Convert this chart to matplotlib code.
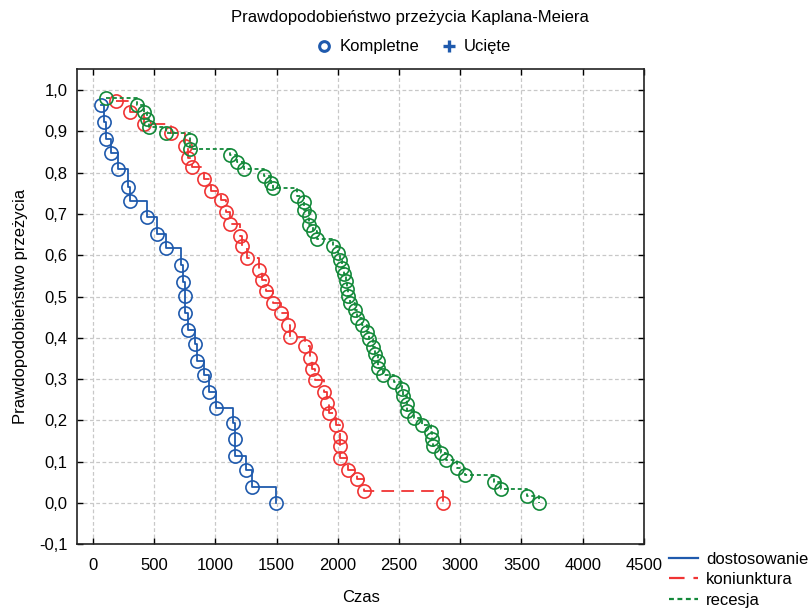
import matplotlib
matplotlib.use('Agg')
import matplotlib.pyplot as plt
from matplotlib.lines import Line2D
from matplotlib.ticker import FuncFormatter, MultipleLocator

plt.rcParams['font.family'] = ['Liberation Sans', 'DejaVu Sans']
plt.rcParams['font.size'] = 12

# czasy i prawdopodobienstwo przezycia
t_dost = [65, 87, 106, 147, 204, 283, 302, 439, 520, 596, 716, 733, 754, 754, 773,
          833, 849, 909, 950, 1005, 1141, 1160, 1160, 1247, 1299, 1495]
s_dost = [0.964, 0.923, 0.882, 0.848, 0.809, 0.766, 0.732, 0.693, 0.652, 0.618,
          0.577, 0.536, 0.501, 0.461, 0.420, 0.386, 0.345, 0.310, 0.270, 0.229,
          0.195, 0.155, 0.114, 0.080, 0.039, 0.0]

t_koni = [185, 302, 417, 637, 754, 773, 811, 909, 968, 1045, 1084, 1121, 1201, 1221,
          1258, 1358, 1380, 1417, 1474, 1535, 1595, 1609, 1731, 1772, 1786, 1813,
          1887, 1909, 1927, 1982, 2017, 2017, 2017, 2080, 2154, 2216, 2861]
s_koni = [0.974, 0.946, 0.917, 0.895, 0.865, 0.836, 0.813, 0.784, 0.756, 0.733,
          0.704, 0.676, 0.646, 0.623, 0.593, 0.565, 0.541, 0.513, 0.484, 0.461,
          0.432, 0.403, 0.380, 0.352, 0.324, 0.298, 0.269, 0.242, 0.217, 0.188,
          0.161, 0.137, 0.109, 0.080, 0.058, 0.028, 0.0]

t_rec = [106, 362, 419, 443, 461, 596, 792, 792, 1119, 1178, 1237, 1397, 1451, 1473,
         1666, 1727, 1727, 1762, 1762, 1799, 1827, 1963, 2003, 2021, 2030, 2050,
         2066, 2074, 2080, 2096, 2142, 2154, 2197, 2235, 2256, 2287, 2303, 2330,
         2330, 2366, 2461, 2528, 2534, 2564, 2564, 2622, 2684, 2763, 2766, 2779,
         2840, 2883, 2977, 3038, 3272, 3335, 3542, 3642]
s_rec = [0.982, 0.964, 0.946, 0.929, 0.911, 0.895, 0.878, 0.857, 0.843, 0.827,
         0.808, 0.791, 0.774, 0.762, 0.744, 0.728, 0.710, 0.694, 0.674, 0.658,
         0.639, 0.623, 0.606, 0.589, 0.570, 0.554, 0.537, 0.519, 0.502, 0.485,
         0.467, 0.449, 0.430, 0.414, 0.398, 0.379, 0.362, 0.345, 0.328, 0.309,
         0.293, 0.276, 0.258, 0.240, 0.224, 0.207, 0.189, 0.171, 0.155, 0.138,
         0.120, 0.103, 0.085, 0.068, 0.051, 0.034, 0.016, 0.0]

grupy = ['dostosowanie', 'koniunktura', 'recesja']
kolory = ['#1f5aad', '#f03434', '#13893a']
style = ['-', (0, (7, 4)), (0, (2.2, 1.6))]

fig = plt.figure(figsize=(8.11, 6.09), dpi=100)
ax = fig.add_axes([0.0953, 0.1062, 0.6987, 0.7798])

dane = [(t_dost, s_dost), (t_koni, s_koni), (t_rec, s_rec)]
for (t, s), kol, ls, nazwa in zip(dane, kolory, style, grupy):
    ax.step(t, s, where='post', color=kol, linestyle=ls, linewidth=1.3, label=nazwa)
    ax.plot(t, s, 'o', markersize=9.5, markerfacecolor='none',
            markeredgecolor=kol, markeredgewidth=1.2)

ax.set_xlim(-128, 4500)
ax.set_ylim(-0.1, 1.05)
ax.xaxis.set_major_locator(MultipleLocator(500))
ax.yaxis.set_major_locator(MultipleLocator(0.1))
ax.yaxis.set_major_formatter(FuncFormatter(lambda v, p: ('%.1f' % v).replace('.', ',')))
ax.tick_params(direction='in', top=True, right=True, length=4, width=1, labelsize=12)
ax.tick_params(axis='x', pad=10)
ax.tick_params(axis='y', pad=7)
ax.grid(True, color='#c8c8c8', linestyle=(0, (3, 2)), linewidth=0.9)
for sp in ax.spines.values():
    sp.set_linewidth(1.2)
    sp.set_color('#222222')

ax.set_xlabel('Czas', fontsize=12, labelpad=12)
ax.set_ylabel('Prawdopodobieństwo przeżycia', fontsize=12, labelpad=8)

fig.text(0.505, 0.972, 'Prawdopodobieństwo przeżycia Kaplana-Meiera',
         ha='center', va='center', fontsize=12)

h_top = [Line2D([], [], marker='o', linestyle='none', markersize=7,
                markerfacecolor='none', markeredgecolor='#1f5aad', markeredgewidth=2.2),
         Line2D([], [], marker='+', linestyle='none', markersize=9,
                markeredgecolor='#1f5aad', markeredgewidth=2.4)]
fig.legend(h_top, ['Kompletne', 'Ucięte'], loc='center', bbox_to_anchor=(0.509, 0.923),
           ncol=2, frameon=False, handletextpad=0.3, columnspacing=1.2,
           fontsize=12, handlelength=1.2)

h_bot = [Line2D([], [], color=k, linestyle=l, linewidth=1.6) for k, l in zip(kolory, style)]
fig.legend(h_bot, grupy, loc='lower left', bbox_to_anchor=(0.812, -0.014),
           frameon=False, fontsize=12, handlelength=1.75, handletextpad=0.5,
           labelspacing=0.33, borderaxespad=0.2)

fig.savefig('out.png', dpi=100)
